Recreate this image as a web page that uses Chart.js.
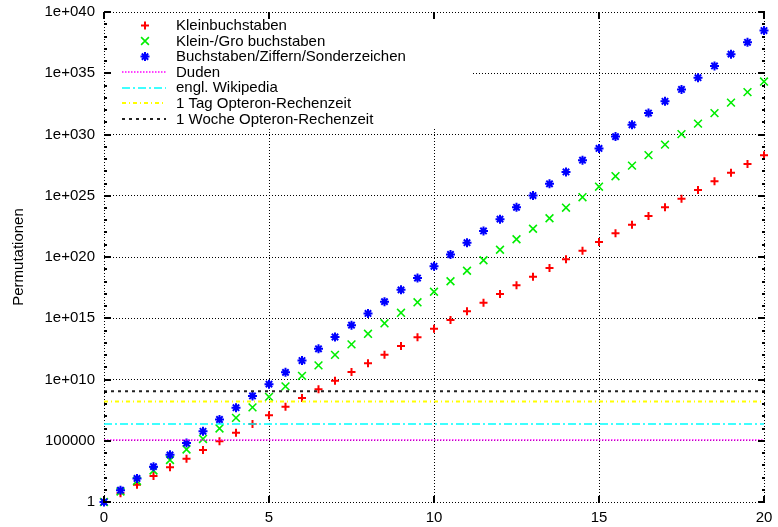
<!DOCTYPE html>
<html><head><meta charset="utf-8">
<script src="https://cdn.jsdelivr.net/npm/chart.js@4.4.1/dist/chart.umd.min.js"></script>
<style>html,body{margin:0;padding:0;background:#fff;} canvas{display:block;}</style>
</head><body>
<canvas id="c" width="778" height="527"></canvas>
<script>
const xValues = [0,0.5,1,1.5,2,2.5,3,3.5,4,4.5,5,5.5,6,6.5,7,7.5,8,8.5,9,9.5,10,10.5,11,11.5,12,12.5,13,13.5,14,14.5,15,15.5,16,16.5,17,17.5,18,18.5,19,19.5,20];
const kleinbuchstaben = [1,5.10,26,133,676,3.45e3,1.76e4,8.96e4,4.57e5,2.33e6,1.19e7,6.06e7,3.09e8,1.58e9,8.03e9,4.10e10,2.09e11,1.06e12,5.43e12,2.77e13,1.41e14,7.20e14,3.67e15,1.87e16,9.54e16,4.87e17,2.48e18,1.27e19,6.45e19,3.29e20,1.68e21,8.55e21,4.36e22,2.22e23,1.13e24,5.78e24,2.95e25,1.50e26,7.66e26,3.91e27,1.99e28];
const kleinGross = [1,7.21,52,375,2.70e3,1.95e4,1.41e5,1.01e6,7.31e6,5.27e7,3.80e8,2.74e9,1.98e10,1.43e11,1.03e12,7.41e12,5.35e13,3.85e14,2.78e15,2.00e16,1.45e17,1.04e18,7.52e18,5.42e19,3.91e20,2.82e21,2.03e22,1.47e23,1.06e24,7.62e24,5.50e25,3.96e26,2.86e27,2.06e28,1.49e29,1.07e30,7.73e30,5.57e31,4.02e32,2.90e33,2.09e34];
const alleZeichen = [1,9.17,84,770,7.06e3,6.47e4,5.93e5,5.43e6,4.98e7,4.56e8,4.18e9,3.83e10,3.51e11,3.22e12,2.95e13,2.71e14,2.48e15,2.27e16,2.08e17,1.91e18,1.75e19,1.60e20,1.47e21,1.35e22,1.23e23,1.13e24,1.04e25,9.50e25,8.71e26,7.98e27,7.31e28,6.71e29,6.15e30,5.63e31,5.16e32,4.73e33,4.34e34,3.97e35,3.64e36,3.34e37,3.06e38];
const seriesNames = ['Kleinbuchstaben','Klein-/Gro buchstaben','Buchstaben/Ziffern/Sonderzeichen'];
const refNames = ['Duden','engl. Wikipedia','1 Tag Opteron-Rechenzeit','1 Woche Opteron-Rechenzeit'];
const refValues = [1.15e5, 2.3e6, 1.6e8, 1.1e9];
const xTickValues = [0,5,10,15,20];
const xTickLabels = ['0','5','10','15','20'];
const yTickLabels = ['1','100000','1e+010','1e+015','1e+020','1e+025','1e+030','1e+035','1e+040'];
const yAxisTitle = 'Permutationen';

const FONT = '"Liberation Sans", Arial, Helvetica, sans-serif';
const pointStyles = [
  {style:'cross', color:'#ff0000', r:4, w:2},
  {style:'crossRot', color:'#00ee00', r:5.5, w:1.6},
  {style:'star', color:'#0000ff', r:4.5, w:2}
];
const lineStyles = [
  {color:'#ff00ff', dash:[1.5,1.5], w:1.5},
  {color:'#00ffff', dash:[8,3,2,3], w:1.5},
  {color:'#ffff00', dash:[4,3,1,3], w:1.8},
  {color:'#222222', dash:[3,4], w:2}
];

function drawMarker(ctx, st, x, y) {
  ctx.save();
  ctx.strokeStyle = st.color; ctx.lineWidth = st.w;
  ctx.beginPath();
  const r = st.r;
  if (st.style === 'cross' || st.style === 'star') {
    ctx.moveTo(x - r, y); ctx.lineTo(x + r, y);
    ctx.moveTo(x, y - r); ctx.lineTo(x, y + r);
  }
  if (st.style === 'crossRot' || st.style === 'star') {
    const d = r * Math.SQRT1_2;
    ctx.moveTo(x - d, y - d); ctx.lineTo(x + d, y + d);
    ctx.moveTo(x - d, y + d); ctx.lineTo(x + d, y - d);
  }
  ctx.stroke();
  ctx.restore();
}

const gnuplotFrame = {
  id: 'gnuplotFrame',
  beforeDatasetsDraw(chart) {
    const ctx = chart.ctx;
    ctx.save();
    ctx.fillStyle = '#fff';
    ctx.fillRect(106, 14, 365, 113);
    const names = seriesNames.concat(refNames);
    ctx.font = '15px ' + FONT;
    ctx.textBaseline = 'middle';
    ctx.textAlign = 'left';
    names.forEach((n, i) => {
      const ry = 25.4 + i * 15.6;
      if (i < 3) {
        drawMarker(ctx, pointStyles[i], 145, ry);
      } else {
        const ls = lineStyles[i - 3];
        ctx.save();
        ctx.strokeStyle = ls.color; ctx.lineWidth = ls.w; ctx.setLineDash(ls.dash);
        ctx.beginPath(); ctx.moveTo(122, Math.round(ry)); ctx.lineTo(166, Math.round(ry)); ctx.stroke();
        ctx.restore();
      }
      ctx.fillStyle = '#000';
      ctx.fillText(n, 176, ry + 0.5);
    });
    ctx.restore();
  },
  afterDraw(chart) {
    const ctx = chart.ctx;
    const a = chart.chartArea;
    const xs = chart.scales.x, ys = chart.scales.y;
    ctx.save();
    ctx.setLineDash([]);
    ctx.fillStyle = '#000';
    ys.ticks.forEach((t, k) => {
      const py = Math.round(ys.getPixelForValue(t.value));
      const len = k % 5 === 0 ? 7 : 3;
      ctx.fillRect(Math.round(a.left), py - 1, len, 2);
      ctx.fillRect(Math.round(a.right) - len + 1, py - 1, len, 2);
    });
    xTickValues.forEach(v => {
      const px = Math.round(xs.getPixelForValue(v));
      ctx.fillRect(px - 1, Math.round(a.bottom) - 6, 2, 7);
      ctx.fillRect(px - 1, Math.round(a.top), 2, 7);
    });
    ctx.restore();
  }
};

const seriesData = [kleinbuchstaben, kleinGross, alleZeichen];
const datasets = [];
seriesData.forEach((arr, i) => {
  const st = pointStyles[i];
  datasets.push({
    label: seriesNames[i],
    data: xValues.map((xv, j) => ({x: xv, y: arr[j]})),
    showLine: false,
    pointStyle: st.style,
    pointRadius: st.r,
    pointHoverRadius: st.r,
    pointBorderWidth: st.w,
    pointBorderColor: st.color,
    pointBackgroundColor: st.color,
    borderColor: st.color,
    backgroundColor: st.color,
    clip: false,
    order: 10 - i
  });
});
refValues.forEach((v, i) => {
  const ls = lineStyles[i];
  datasets.push({
    label: refNames[i],
    data: [{x: xTickValues[0], y: v}, {x: xTickValues[xTickValues.length - 1], y: v}],
    showLine: true,
    pointRadius: 0,
    borderColor: ls.color,
    borderWidth: ls.w,
    borderDash: ls.dash,
    fill: false,
    order: 7 - i
  });
});

new Chart(document.getElementById('c'), {
  type: 'scatter',
  data: { datasets },
  options: {
    responsive: false,
    animation: false,
    devicePixelRatio: 1,
    layout: { padding: { top: 12, right: 14, left: 0, bottom: 0 } },
    plugins: { legend: { display: false }, tooltip: { enabled: false } },
    scales: {
      x: {
        type: 'linear', min: 0, max: 20,
        afterBuildTicks: s => { s.ticks = xTickValues.map(v => ({value: v})); },
        afterFit: s => { s.height = 25; s.paddingLeft = 0; s.paddingRight = 0; },
        ticks: {
          callback: (v, idx) => xTickLabels[idx],
          font: { family: FONT, size: 15 }, color: '#000', padding: 7,
          maxRotation: 0, autoSkip: false
        },
        grid: { color: '#000', lineWidth: 1, drawTicks: false },
        border: { display: false, dash: [1, 2] }
      },
      y: {
        type: 'logarithmic', min: 1, max: 1e40,
        afterBuildTicks: s => {
          const t = [];
          for (let k = 0; k <= 40; k++) t.push({value: Math.pow(10, k)});
          s.ticks = t;
        },
        afterFit: s => { s.width = 104; s.paddingTop = 0; s.paddingBottom = 0; },
        ticks: {
          callback: (v, idx) => idx % 5 === 0 ? yTickLabels[idx / 5] : '',
          font: { family: FONT, size: 15 }, color: '#000', padding: 9, autoSkip: false
        },
        grid: {
          color: c => (c.index % 5 === 0 ? '#000' : 'rgba(0,0,0,0)'),
          lineWidth: 1, drawTicks: false
        },
        border: { display: false, dash: [1, 2] },
        title: { display: true, text: yAxisTitle, font: { family: FONT, size: 15 }, color: '#000', padding: { top: 10, bottom: 0 } }
      }
    }
  },
  plugins: [gnuplotFrame]
});
</script>
</body></html>
